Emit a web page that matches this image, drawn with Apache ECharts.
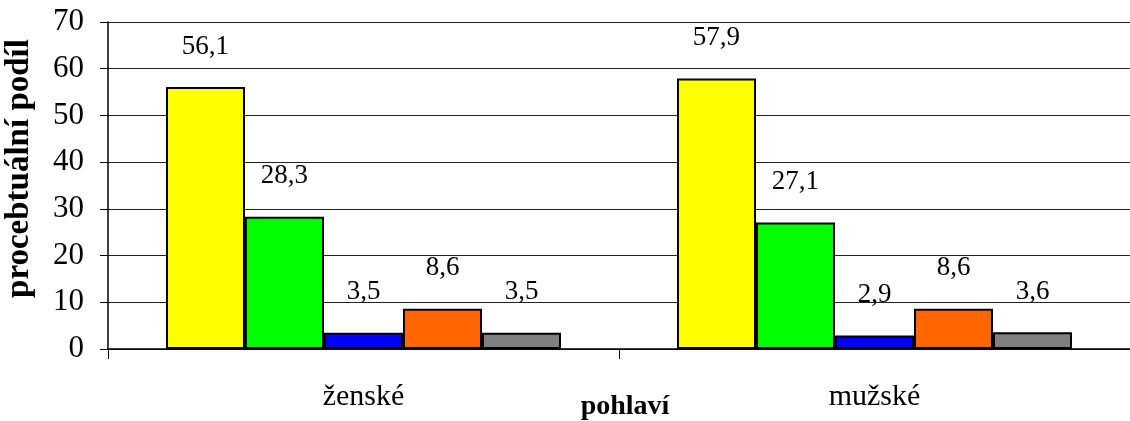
<!DOCTYPE html>
<html>
<head>
<meta charset="utf-8">
<script src="https://cdn.jsdelivr.net/npm/echarts@6/dist/echarts.min.js"></script>
<style>
  html, body { margin: 0; padding: 0; background: #fff; }
  #chart { width: 1130px; height: 421px; }
</style>
</head>
<body>
<div id="chart"></div>
<script>
// kategorie na ose x
var categories = ['ženské', 'mužské'];

// hodnoty jednotlivých řad (procenta)
var serie1 = [56.1, 57.9];
var serie2 = [28.3, 27.1];
var serie3 = [3.5, 2.9];
var serie4 = [8.6, 8.6];
var serie5 = [3.5, 3.6];

var yTicks = [0, 10, 20, 30, 40, 50, 60, 70];

var barvy = ['#ffff00', '#00ff00', '#0000ff', '#ff6600', '#808080'];
var font = '"Liberation Serif", "Times New Roman", serif';

function makeSerie(name, data, color) {
    return {
        name: name,
        type: 'bar',
        data: data,
        barGap: 0,
        barCategoryGap: '22.7%',
        itemStyle: {
            color: color,
            borderColor: '#000',
            borderWidth: 2
        },
        label: {
            show: true,
            position: 'top',
            distance: 27,
            color: '#000',
            fontFamily: font,
            fontSize: 27,
            formatter: function (p) {
                return p.value.toFixed(1).replace('.', ',');
            }
        }
    };
}

var option = {
    backgroundColor: '#fff',
    animation: false,
    grid: {
        left: 108,
        right: 0,
        top: 22,
        bottom: 72,
        containLabel: false,
        outerBoundsMode: 'none'
    },
    xAxis: {
        type: 'category',
        data: categories,
        name: 'pohlaví',
        nameLocation: 'middle',
        nameGap: 44,
        nameMoveOverlap: false,
        nameTextStyle: {
            color: '#000',
            fontFamily: font,
            fontSize: 28,
            fontWeight: 'bold',
            padding: [0, 0, 0, 12]
        },
        axisLine: { lineStyle: { color: '#000', width: 1.5 } },
        axisTick: { show: true, length: 10, lineStyle: { color: '#000' } },
        axisLabel: {
            color: '#000',
            fontFamily: font,
            fontSize: 30,
            margin: 33
        }
    },
    yAxis: {
        type: 'value',
        min: yTicks[0],
        max: yTicks[yTicks.length - 1],
        interval: 10,
        name: 'procebtuální podíl',
        nameLocation: 'middle',
        nameGap: 72,
        nameMoveOverlap: false,
        nameTextStyle: {
            color: '#000',
            fontFamily: font,
            fontSize: 33,
            fontWeight: 'bold',
            padding: [0, 0, 0, 34]
        },
        axisLine: { show: true, lineStyle: { color: '#000', width: 1.5 } },
        axisTick: { show: true, length: 8, lineStyle: { color: '#000' } },
        axisLabel: {
            color: '#000',
            fontFamily: font,
            fontSize: 31,
            margin: 24
        },
        splitLine: { lineStyle: { color: '#222', width: 1 } }
    },
    series: [
        makeSerie('1', serie1, barvy[0]),
        makeSerie('2', serie2, barvy[1]),
        makeSerie('3', serie3, barvy[2]),
        makeSerie('4', serie4, barvy[3]),
        makeSerie('5', serie5, barvy[4])
    ]
};

var chart = echarts.init(document.getElementById('chart'));
chart.setOption(option);
</script>
</body>
</html>
